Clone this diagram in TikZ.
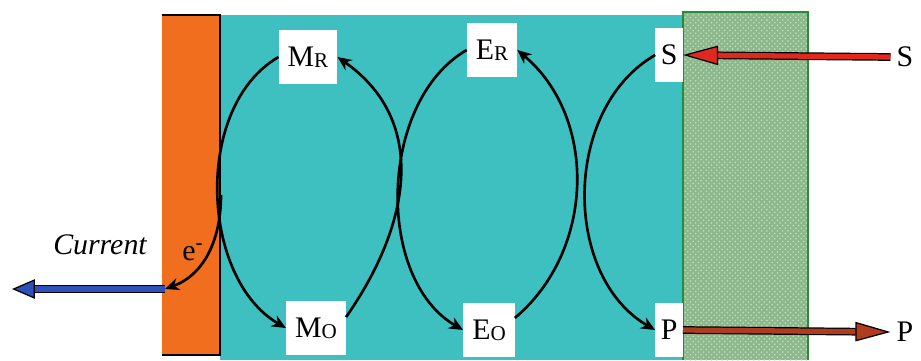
\documentclass[tikz,border=0pt]{standalone}
\usepackage{fontspec}
\setmainfont{Liberation Serif}
\usetikzlibrary{arrows.meta,patterns}
\definecolor{electrode}{RGB}{240,110,30}
\definecolor{solution}{RGB}{62,192,192}
\definecolor{membrane}{RGB}{140,184,140}
\definecolor{membranedot}{RGB}{196,222,196}
\definecolor{membraneedge}{RGB}{40,140,60}
\definecolor{substrate}{RGB}{225,40,30}
\definecolor{product}{RGB}{175,60,30}
\definecolor{current}{RGB}{45,80,185}
\newcommand{\species}[2]{#1\raisebox{-0.5pt}{\fontsize{12}{13}\selectfont #2}}

\begin{document}
\begin{tikzpicture}[x=0.02cm,y=0.02cm,
  lab/.style={fill=white,inner xsep=5pt,minimum height=31pt,font=\rmfamily\fontsize{17}{19}\selectfont},
  cyc/.style={line width=1.5pt,-{Stealth[length=8pt,width=7pt,inset=2.5pt]}},
  fat/.style={line width=0.7pt,double distance=3pt}]
  \useasboundingbox (0,0) rectangle (921,360);

  % --- electrode, solution and membrane ---------------------------------
  \fill[solution] (220,0) rectangle (683,345);
  \fill[electrode] (162,5) rectangle (220,345);
  \draw[line width=1.4pt] (162,345) -- (220,345) -- (220,5) -- (162,5);
  \fill[membrane] (683,0) rectangle (808,348);
  \fill[pattern=crosshatch dots,pattern color=membranedot] (683,0) rectangle (808,348);
  \draw[membraneedge,line width=1.2pt] (683,0) -- (683,348) -- (808,348) -- (808,0);

  % --- species --------------------------------------------------------------
  \node[lab] (mr) at (308,303) {\species{M}{R}};
  \node[lab] (mo) at (316,32) {\species{M}{O}};
  \node[lab] (er) at (492,310) {\species{E}{R}};
  \node[lab] (eo) at (489,30) {\species{E}{O}};
  \node[lab,inner xsep=3pt,anchor=east] (s) at (683,305) {S};
  \node[lab,inner xsep=3pt,anchor=east] (p) at (683,30) {P};
  \node[font=\fontsize{17}{19}\selectfont] (sout) at (905,303) {S};
  \node[font=\fontsize{17}{19}\selectfont] (pout) at (905,28) {P};
  \node[font=\fontsize{17}{19}\selectfont\itshape] (curlab) at (100,115) {Current};
  \node[font=\fontsize{17}{19}\selectfont] (elec) at (193,108) {e\textsuperscript{-}};
  \coordinate (branch) at (221,165);
  \coordinate (cathode) at (165,71);
  \coordinate (wire) at (12,71);

  % --- mediator, enzyme and substrate cycles ---------------------------------
  \draw[cyc] (mr.west) to[out=210,in=150,looseness=0.93] (mo.west);
  \draw[cyc] (mo.20) to[out=55,in=-35,looseness=1.1] (mr.east);
  \draw[cyc] (er.west) to[out=210,in=150,looseness=0.93] (eo.west);
  \draw[cyc] (eo.25) to[out=40,in=-40] (er.east);
  \draw[cyc] (s.west) to[out=210,in=150,looseness=1.0] (p.west);
  \draw[cyc] (branch) to[out=-90,in=20] (cathode);

  % --- fluxes in and out ------------------------------------------------------
  \draw[fat,double=substrate,-{Triangle[length=20pt,width=11pt,fill=substrate,line width=0.7pt]}] (sout.west) -- (s.east);
  \draw[fat,double=product,-{Triangle[length=20pt,width=11pt,fill=product,line width=0.7pt]}] (p.east) -- (pout.west);
  \draw[fat,double=current,-{Triangle[length=13pt,width=11pt,fill=current,line width=0.7pt]}] (cathode) -- (wire);
\end{tikzpicture}
\end{document}
